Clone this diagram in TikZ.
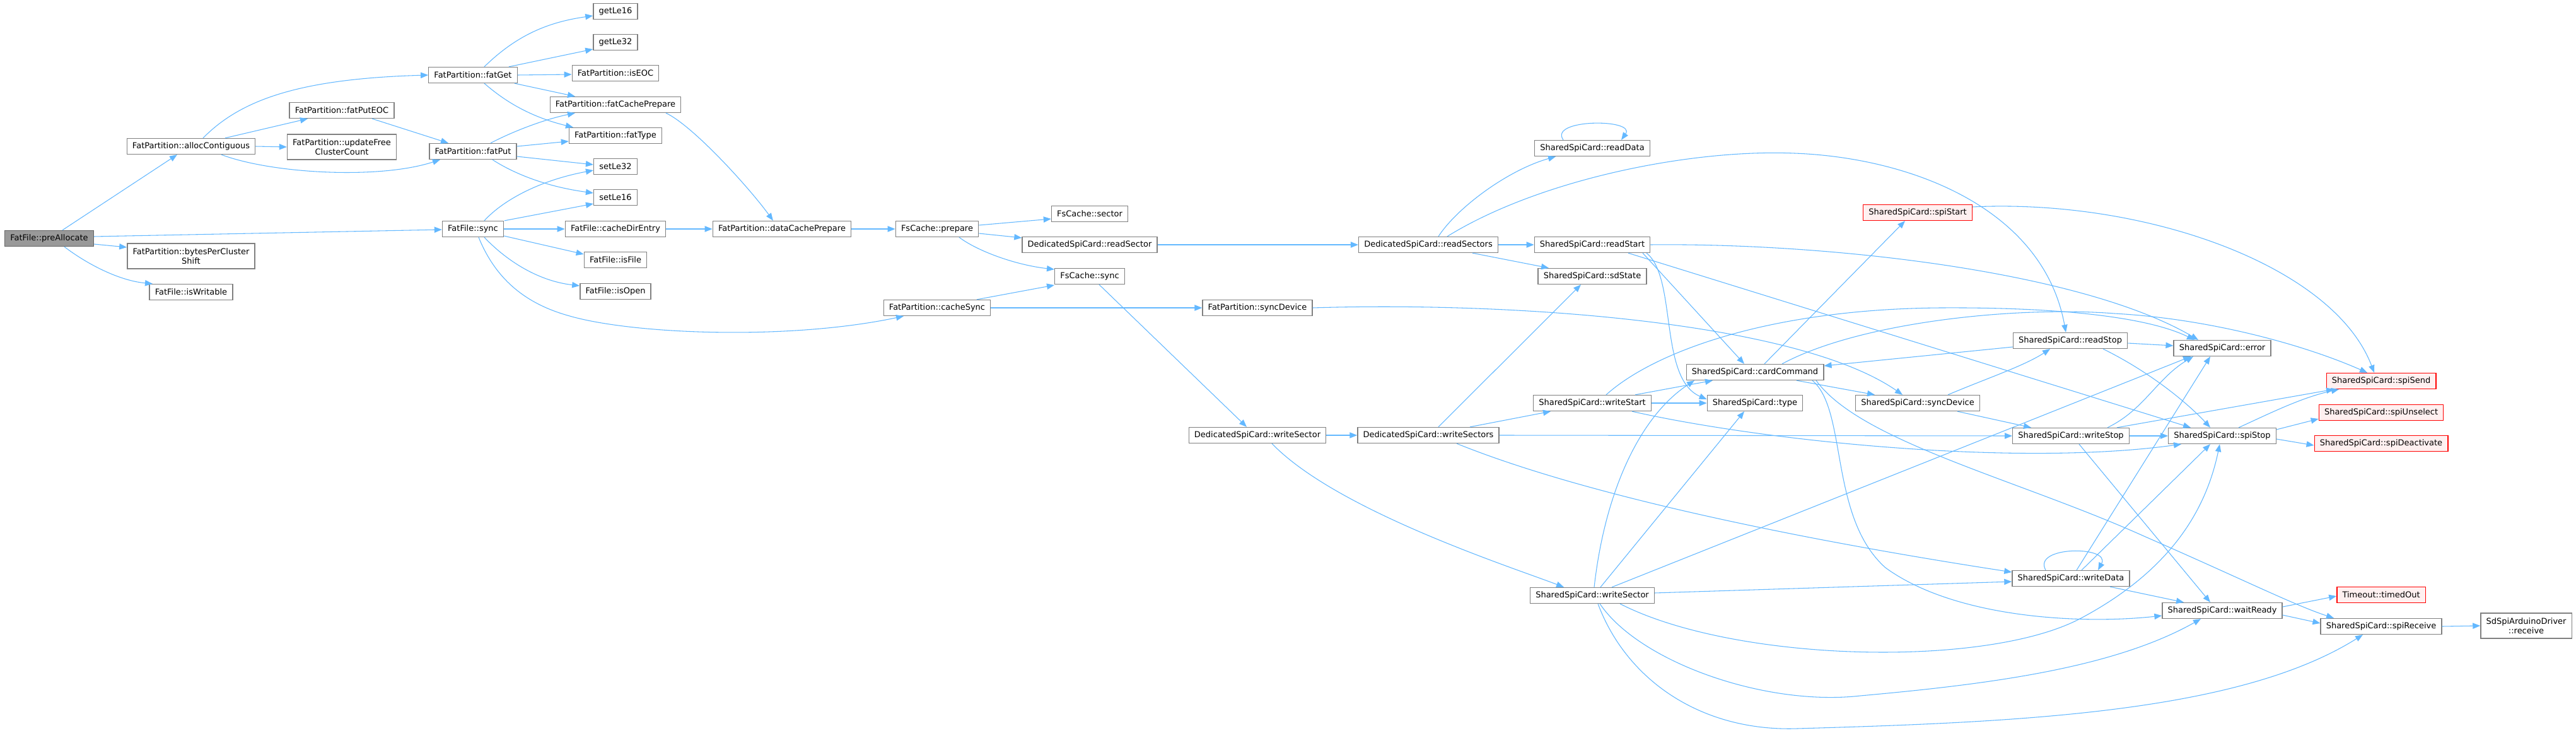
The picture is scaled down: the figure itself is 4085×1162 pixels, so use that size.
\documentclass[tikz,border=0pt]{standalone}
\usepackage{fontspec}
\setmainfont{DejaVu Sans}
\usetikzlibrary{arrows.meta,calc}
\definecolor{edgeblue}{HTML}{63B8FF}
\definecolor{nodegray}{HTML}{808080}
\definecolor{rootfill}{HTML}{999999}
\definecolor{rootline}{HTML}{666666}
\definecolor{redfill}{HTML}{FFF0F0}
\definecolor{redline}{HTML}{FF0000}
\begin{document}
\begin{tikzpicture}[x=0.75pt,y=-0.75pt,
 nd/.style={draw=nodegray, line width=1pt, fill=white, inner xsep=6.5pt, inner ysep=2pt, minimum height=18.75pt, font=\fontsize{9.75}{11.5}\selectfont, align=center},
 tall/.style={minimum height=30pt},
 rootnd/.style={nd, fill=rootfill, draw=rootline},
 rednd/.style={nd, fill=redfill, draw=redline},
 ed/.style={draw=edgeblue, line width=0.8pt, -{Triangle[length=9pt,width=7pt]}}]
\path[use as bounding box, fill=white] (0,0) rectangle (4085,1162);
% nodes
\node[rootnd] (pre) at (78,378) {FatFile::preAllocate};
\node[nd] (alloc) at (303,232) {FatPartition::allocContiguous};
\node[nd,tall] (bpcs) at (303,406) {FatPartition::bytesPerCluster\\Shift};
\node[nd] (isw) at (303,463) {FatFile::isWritable};
\node[nd] (eoc) at (542,175) {FatPartition::fatPutEOC};
\node[nd,tall] (ufc) at (542,233) {FatPartition::updateFree\\ClusterCount};
\node[nd] (fget) at (750,119) {FatPartition::fatGet};
\node[nd] (fput) at (750,240) {FatPartition::fatPut};
\node[nd] (sync) at (750,363) {FatFile::sync};
\node[nd] (gl16) at (976,18) {getLe16};
\node[nd] (gl32) at (976,67) {getLe32};
\node[nd] (iseoc) at (976,116) {FatPartition::isEOC};
\node[nd] (fcp) at (976,166) {FatPartition::fatCachePrepare};
\node[nd] (ftype) at (976,215) {FatPartition::fatType};
\node[nd] (sl32) at (976,264) {setLe32};
\node[nd] (sl16) at (976,313) {setLe16};
\node[nd] (cde) at (976,363) {FatFile::cacheDirEntry};
\node[nd] (isfile) at (976,412) {FatFile::isFile};
\node[nd] (isopen) at (976,462) {FatFile::isOpen};
\node[nd] (dcp) at (1240,363) {FatPartition::dataCachePrepare};
\node[nd] (prep) at (1486,363) {FsCache::prepare};
\node[nd] (sect) at (1728,339) {FsCache::sector};
\node[nd] (rsec) at (1728,388) {DedicatedSpiCard::readSector};
\node[nd] (fsync) at (1728,438) {FsCache::sync};
\node[nd] (csync) at (1486,488) {FatPartition::cacheSync};
\node[nd] (fpsd) at (1994,488) {FatPartition::syncDevice};
\node[nd] (rsecs) at (2265,388) {DedicatedSpiCard::readSectors};
\node[nd] (dws) at (1994,690) {DedicatedSpiCard::writeSector};
\node[nd] (dwss) at (2265,690) {DedicatedSpiCard::writeSectors};
\node[nd] (rdata) at (2525,235) {SharedSpiCard::readData};
\node[nd] (rstart) at (2525,388) {SharedSpiCard::readStart};
\node[nd] (sdst) at (2525,438) {SharedSpiCard::sdState};
\node[nd] (wstart) at (2525,639) {SharedSpiCard::writeStart};
\node[nd] (sws) at (2525,944) {SharedSpiCard::writeSector};
\node[nd] (cmd) at (2783,590) {SharedSpiCard::cardCommand};
\node[nd] (type) at (2783,639) {SharedSpiCard::type};
\node[rednd] (sstart) at (3041,337) {SharedSpiCard::spiStart};
\node[nd] (ssd) at (3041,639) {SharedSpiCard::syncDevice};
\node[nd] (rstop) at (3283,540) {SharedSpiCard::readStop};
\node[nd] (wstop) at (3284,691) {SharedSpiCard::writeStop};
\node[nd] (wdata) at (3284,917) {SharedSpiCard::writeData};
\node[nd] (err) at (3524,552) {SharedSpiCard::error};
\node[nd] (sstop) at (3524,691) {SharedSpiCard::spiStop};
\node[nd] (wready) at (3524,968) {SharedSpiCard::waitReady};
\node[rednd] (ssend) at (3776,604) {SharedSpiCard::spiSend};
\node[rednd] (sunsel) at (3776,654) {SharedSpiCard::spiUnselect};
\node[rednd] (sdeact) at (3776,703) {SharedSpiCard::spiDeactivate};
\node[rednd] (tout) at (3776,943) {Timeout::timedOut};
\node[nd] (srecv) at (3776,993) {SharedSpiCard::spiReceive};
\node[nd,tall] (drv) at (4006,992) {SdSpiArduinoDriver\\::receive};
% edges
\draw[ed] ($(pre.north)+(21,0)$) -- ($(alloc.south)+(-22,0)$);
\draw[ed] ($(pre.east)+(0,-3)$) -- ($(sync.west)+(0,1)$);
\draw[ed] ($(pre.east)+(0,9)$) -- ($(bpcs.west)+(0,-14)$);
\draw[ed] ($(pre.south)+(24,0)$) .. controls (140,420) and (190,445) .. ($(isw.north)+(-61,0)$);
\draw[ed] ($(alloc.north)+(19,0)$) .. controls (380,160) and (470,125) .. (fget.west);
\draw[ed] ($(alloc.north)+(54,0)$) -- ($(eoc.south)+(-54,0)$);
\draw[ed] (alloc.east) -- (ufc.west);
\draw[ed] ($(alloc.south)+(48,0)$) .. controls (430,275) and (600,285) .. ($(fput.south)+(-52,0)$);
\draw[ed] ($(eoc.south)+(48,0)$) -- ($(fput.north)+(-39,0)$);
\draw[ed] ($(fget.north)+(18,0)$) .. controls (820,55) and (870,35) .. ($(gl16.west)+(0,7)$);
\draw[ed] ($(fget.north)+(57,0)$) -- ($(gl32.west)+(0,11)$);
\draw[ed] (fget.east) -- ($(iseoc.west)+(0,2)$);
\draw[ed] ($(fget.south)+(66,0)$) -- ($(fcp.north)+(-64,0)$);
\draw[ed] ($(fget.south)+(18,0)$) .. controls (800,160) and (840,185) .. ($(ftype.north)+(-67,0)$);
\draw[ed] ($(fput.north)+(28,0)$) .. controls (810,210) and (860,190) .. ($(fcp.south)+(-64,0)$);
\draw[ed] ($(fput.east)+(0,-8)$) -- ($(ftype.west)+(0,9)$);
\draw[ed] ($(fput.east)+(0,8)$) -- ($(sl32.west)+(0,-3)$);
\draw[ed] ($(fput.south)+(31,0)$) .. controls (810,272) and (860,295) .. ($(sl16.west)+(0,-7)$);
\draw[ed] ($(sync.north)+(18,0)$) .. controls (800,315) and (860,285) .. ($(sl32.west)+(0,6)$);
\draw[ed] ($(sync.north)+(50,0)$) -- ($(sl16.west)+(0,10)$);
\draw[ed] (sync.east) -- (cde.west);
\draw[ed] ($(sync.east)+(0,11)$) -- ($(isfile.west)+(0,-9)$);
\draw[ed] ($(sync.south)+(18,0)$) .. controls (800,410) and (850,445) .. ($(isopen.west)+(0,-9)$);
\draw[ed] ($(sync.south)+(9,0)$) .. controls (785,440) and (830,480) .. (900,500) .. controls (1000,530) and (1250,540) .. ($(csync.south)+(-53,0)$);
\draw[ed] ($(fcp.south)+(80,0)$) .. controls (1100,200) and (1190,300) .. ($(dcp.north)+(-14,0)$);
\draw[ed] (cde.east) -- (dcp.west);
\draw[ed] (dcp.east) -- (prep.west);
\draw[ed] ($(prep.east)+(0,-6)$) -- ($(sect.west)+(0,8)$);
\draw[ed] ($(prep.east)+(0,7)$) -- ($(rsec.west)+(0,-11)$);
\draw[ed] ($(prep.south)+(35,0)$) .. controls (1550,398) and (1610,420) .. ($(fsync.west)+(0,-11)$);
\draw[ed] ($(csync.north)+(63,0)$) -- ($(fsync.west)+(0,14)$);
\draw[ed] (csync.east) -- (fpsd.west);
\draw[ed] ($(fsync.south)+(15,0)$) -- ($(dws.north)+(-17,0)$);
\draw[ed] (rsec.east) -- (rsecs.west);
\draw[ed] (dws.east) -- (dwss.west);
\draw[ed] ($(dws.south)+(23,0)$) .. controls (2120,810) and (2400,900) .. ($(sws.north)+(-45,0)$);
\draw[ed] ($(rsecs.north)+(16,0)$) .. controls (2310,330) and (2390,270) .. ($(rdata.south)+(-58,0)$);
\draw[ed] ($(rdata.north)+(-46,0)$) .. controls (2455,188) and (2595,188) .. ($(rdata.north)+(46,0)$);
\draw[ed] (rsecs.east) -- (rstart.west);
\draw[ed] ($(rsecs.south)+(70,0)$) -- ($(sdst.north)+(-69,0)$);
\draw[ed] ($(rsecs.north)+(30,0)$) .. controls (2440,285) and (2680,236) .. (2846,243) .. controls (3030,250) and (3240,330) .. ($(rstop.north)+(-7,0)$);
\draw[ed] (rstart.east) .. controls (2900,385) and (3300,430) .. ($(err.north)+(-38,0)$);
\draw[ed] ($(rstart.south)+(57,0)$) -- ($(sstop.north)+(-50,0)$);
\draw[ed] ($(rstart.south)+(80,0)$) -- ($(cmd.north)+(-17,0)$);
\draw[ed] ($(rstart.south)+(86,0)$) .. controls (2660,440) and (2630,600) .. ($(type.west)+(0,-6)$);
\draw[ed] (wstart.east) -- (type.west);
\draw[ed] ($(wstart.north)+(68,0)$) -- ($(cmd.south)+(-67,0)$);
\draw[ed] ($(wstart.north)+(22,0)$) .. controls (2620,560) and (2800,490) .. (3078,488) .. controls (3250,487) and (3400,500) .. ($(err.north)+(-44,0)$);
\draw[ed] ($(wstart.south)+(63,0)$) .. controls (2800,700) and (3200,740) .. ($(sstop.south)+(-65,0)$);
\draw[ed] ($(dwss.north)+(66,0)$) -- ($(wstart.south)+(-66,0)$);
\draw[ed] ($(dwss.north)+(16,0)$) -- ($(sdst.south)+(-18,0)$);
\draw[ed] (dwss.east) -- (wstop.west);
\draw[ed] ($(dwss.south)+(45,0)$) .. controls (2550,800) and (2950,870) .. ($(wdata.west)+(0,-10)$);
\draw[ed] ($(sws.east)+(0,-4)$) -- ($(wdata.west)+(0,5)$);
\draw[ed] ($(sws.north)+(3,0)$) .. controls (2545,780) and (2600,660) .. ($(cmd.south)+(-96,0)$);
\draw[ed] ($(sws.north)+(13,0)$) -- ($(type.south)+(-17,0)$);
\draw[ed] ($(sws.north)+(31,0)$) -- ($(err.south)+(-50,0)$);
\draw[ed] ($(sws.south)+(44,0)$) .. controls (2750,1050) and (3150,1060) .. (3300,980) .. controls (3450,900) and (3500,800) .. ($(sstop.south)+(-4,0)$);
\draw[ed] ($(sws.south)+(12,0)$) .. controls (2600,1050) and (2800,1120) .. (2950,1103) .. controls (3150,1085) and (3350,1060) .. ($(wready.south)+(-34,0)$);
\draw[ed] ($(sws.south)+(9,0)$) .. controls (2580,1080) and (2700,1160) .. (2850,1155) .. controls (3200,1145) and (3550,1130) .. ($(srecv.south)+(-29,0)$);
\draw[ed] ($(wdata.north)+(-40,0)$) .. controls (3222,865) and (3348,865) .. ($(wdata.north)+(43,0)$);
\draw[ed] ($(wdata.north)+(9,0)$) -- ($(err.south)+(-19,0)$);
\draw[ed] ($(wdata.north)+(17,0)$) -- ($(sstop.south)+(-19,0)$);
\draw[ed] ($(wdata.south)+(62,0)$) -- ($(wready.north)+(-61,0)$);
\draw[ed] ($(cmd.north)+(15,0)$) -- ($(sstart.south)+(-20,0)$);
\draw[ed] ($(cmd.south)+(66,0)$) -- ($(ssd.north)+(-68,0)$);
\draw[ed] ($(cmd.north)+(43,0)$) .. controls (2950,510) and (3200,485) .. (3353,497) .. controls (3500,505) and (3650,545) .. ($(ssend.north)+(-22,0)$);
\draw[ed] ($(cmd.south)+(91,0)$) .. controls (2930,650) and (2900,820) .. (2990,900) .. controls (3100,980) and (3300,990) .. ($(wready.west)+(0,8)$);
\draw[ed] ($(cmd.south)+(97,0)$) .. controls (2950,700) and (3200,760) .. (3400,850) .. controls (3560,920) and (3640,960) .. ($(srecv.north)+(-75,0)$);
\draw[ed] ($(rstop.west)+(0,10)$) -- ($(cmd.east)+(0,-10)$);
\draw[ed] ($(rstop.east)+(0,4)$) -- ($(err.west)+(0,-4)$);
\draw[ed] ($(rstop.south)+(52,0)$) .. controls (3410,590) and (3470,640) .. ($(sstop.north)+(-19,0)$);
\draw[ed] ($(ssd.north)+(48,0)$) .. controls (3150,600) and (3210,580) .. ($(rstop.south)+(-32,0)$);
\draw[ed] ($(ssd.south)+(63,0)$) -- ($(wstop.north)+(-63,0)$);
\draw[ed] (fpsd.east) .. controls (2400,478) and (2850,510) .. ($(ssd.north)+(-24,0)$);
\draw[ed] ($(wstop.north)+(58,0)$) .. controls (3400,650) and (3420,600) .. ($(err.south)+(-46,0)$);
\draw[ed] ($(wstop.north)+(73,0)$) -- ($(ssend.south)+(-75,0)$);
\draw[ed] (wstop.east) -- (sstop.west);
\draw[ed] ($(wstop.south)+(13,0)$) -- ($(wready.north)+(-19,0)$);
\draw[ed] ($(sstop.north)+(26,0)$) .. controls (3600,655) and (3650,630) .. ($(ssend.south)+(-67,0)$);
\draw[ed] ($(sstop.east)+(0,-10)$) -- ($(sunsel.west)+(0,10)$);
\draw[ed] ($(sstop.east)+(0,5)$) -- ($(sdeact.west)+(0,3)$);
\draw[ed] ($(sstart.east)+(0,-9)$) .. controls (3400,315) and (3700,420) .. ($(ssend.north)+(-11,0)$);
\draw[ed] ($(wready.east)+(0,-6)$) -- ($(tout.west)+(0,2)$);
\draw[ed] ($(wready.east)+(0,7)$) -- ($(srecv.west)+(0,-5)$);
\draw[ed] (srecv.east) -- (drv.west);
\end{tikzpicture}
\end{document}
